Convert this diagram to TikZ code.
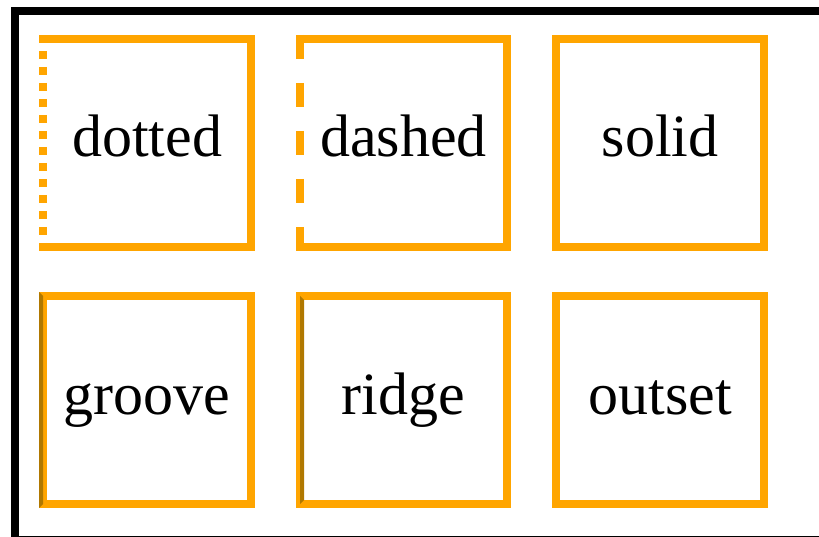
\documentclass[tikz,border=0pt]{standalone}
\usepackage{fontspec}
\setmainfont{Liberation Serif}
\definecolor{cssorange}{HTML}{FFA500}
\definecolor{darkorange}{HTML}{B07800}
\tikzset{
  border/.style={cssorange, line width=8pt},
  label/.style={anchor=base, font=\fontsize{60}{72}\selectfont}
}

\begin{document}
\begin{tikzpicture}[x=1pt, y=-1pt]
        \clip (0,0) rectangle (819,537);
        \useasboundingbox (0,0) rectangle (819,537);
        \draw[black, line width=8pt] (830,11) -- (15,11) -- (15,540) -- (830,540);
        \draw[border] (39,39) -- (251,39) -- (251,247) -- (39,247);
        \draw[border, dash pattern=on 8pt off 8pt, dash phase=8pt] (43,43) -- (43,243);
        \draw[border] (296,39) -- (507,39) -- (507,247) -- (296,247);
        \draw[border, dash pattern=on 24pt off 24pt] (300,35) -- (300,251);
        \draw[border] (556,39) rectangle (764,247);
        \draw[border] (43,296) rectangle (251,504);
        \fill[darkorange] (39,292) -- (43,296) -- (43,504) -- (39,508) -- cycle;
        \draw[border] (300,296) rectangle (507,504);
        \fill[darkorange] (300,296) -- (304,300) -- (304,500) -- (300,504) -- cycle;
        \draw[border] (556,296) rectangle (764,504);
        \node[label] (dotted) at (147,157) {dotted};
        \node[label] (dashed) at (403.5,157) {dashed};
        \node[label] (solid) at (660,157) {solid};
        \node[label] (groove) at (147,414) {groove};
        \node[label] (ridge) at (403.5,414) {ridge};
        \node[label] (outset) at (660,414) {outset};
        \end{tikzpicture}
\end{document}
